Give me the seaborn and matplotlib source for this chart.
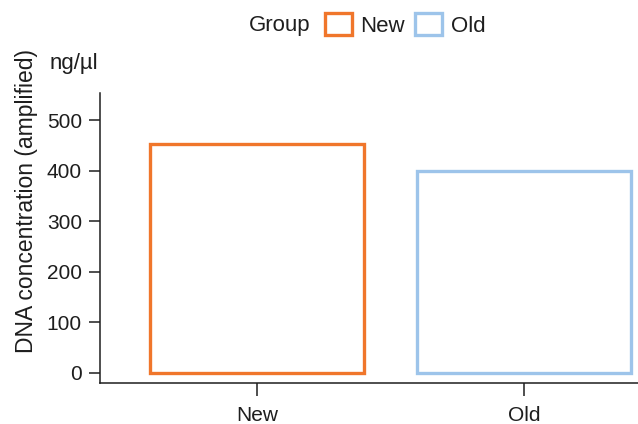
import matplotlib
matplotlib.use("Agg")
import matplotlib.pyplot as plt
from matplotlib.patches import Patch
import pandas as pd
import seaborn as sns

# --------------------------------------------------------------------------- #
# Data
# --------------------------------------------------------------------------- #
groups = ["New", "Old"]
concentration = [453, 400]
colors = {"New": "#F0762B", "Old": "#9DC4EA"}
y_ticks = [0, 100, 200, 300, 400, 500]

df = pd.DataFrame({"Group": groups, "conc": concentration})

sns.set_theme(style="white")
plt.rcParams["font.family"] = ["Liberation Sans", "DejaVu Sans"]
ink = "#1e1e1e"

fig = plt.figure(figsize=(6.38, 4.24), dpi=100)
ax = fig.add_axes([100 / 638, 41.3 / 424, 538 / 638, 0.684])

sns.barplot(
    data=df, x="Group", y="conc", hue="Group", palette=colors,
    fill=False, linewidth=2.4, width=0.8, legend=False, ax=ax,
)

ax.set_xlim(-0.588, 1.427)
ax.set_ylim(-20, 555)
ax.set_yticks(y_ticks)
ax.set_xlabel("")
ax.set_ylabel("DNA concentration (amplified)", fontsize=16.5, color=ink)
ax.yaxis.set_label_coords(-0.115, 0.626)
ax.tick_params(axis="y", length=8, width=1.1, color=ink, labelsize=15,
               labelcolor=ink, pad=5, left=True)
ax.tick_params(axis="x", length=9.5, width=1.1, color=ink, labelsize=15,
               labelcolor=ink, pad=7, bottom=True)
sns.despine(ax=ax, top=True, right=True)
for side in ("left", "bottom"):
    ax.spines[side].set_color(ink)
    ax.spines[side].set_linewidth(1.1)

fig.text(50 / 638, 1 - 63 / 424, "ng/µl", fontsize=16, color=ink, va="center", ha="left")

# Legend laid out in a single row with the title inline
fig.text(249 / 638, 1 - 25 / 424, "Group", fontsize=16, color=ink, va="center", ha="left")
handles = [Patch(facecolor="none", edgecolor=colors[g], linewidth=2.4, label=g) for g in groups]
fig.legend(
    handles=handles, loc="center left", bbox_to_anchor=(325 / 638, 1 - 25 / 424),
    ncol=2, frameon=False, fontsize=16, handlelength=1.2, handleheight=1.15,
    handletextpad=0.4, columnspacing=0.45, borderpad=0, borderaxespad=0,
    labelcolor=ink,
)

fig.savefig("out.png", dpi=100)
